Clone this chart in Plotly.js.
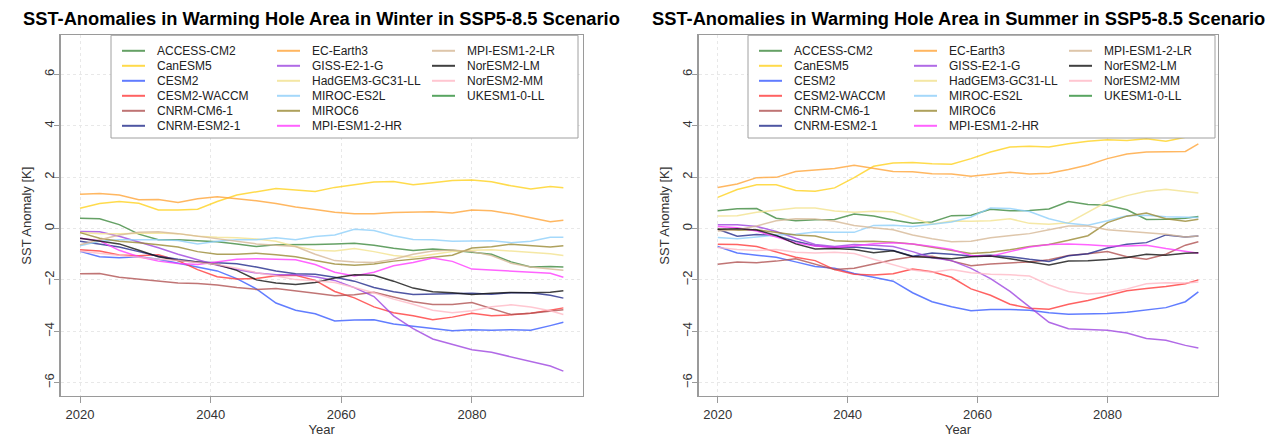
<!DOCTYPE html>
<html><head><meta charset="utf-8">
<script src="https://cdn.plot.ly/plotly-3.0.1.min.js"></script>
<style>html,body{margin:0;padding:0;background:#fff;}#chart{width:1274px;height:437px;}</style>
</head><body><div id="chart"></div>
<script>
// ---------------- data ----------------
const years = [2020,2023,2026,2029,2032,2035,2038,2041,2044,2047,2050,2053,2056,2059,2062,2065,2068,2071,2074,2077,2080,2083,2086,2089,2092,2094];
const models = ["ACCESS-CM2","CanESM5","CESM2","CESM2-WACCM","CNRM-CM6-1","CNRM-ESM2-1",
  "EC-Earth3","GISS-E2-1-G","HadGEM3-GC31-LL","MIROC-ES2L","MIROC6","MPI-ESM1-2-HR",
  "MPI-ESM1-2-LR","NorESM2-LM","NorESM2-MM","UKESM1-0-LL"];
const colors = ["#3f8a3f","#ffd21f","#3a5cff","#ff3b3b","#b05252","#232c8c",
  "#ffa53a","#9d45e0","#f2e28e","#8ecffa","#9a8a34","#ff3cff",
  "#d6b896","#111111","#ffb9c6","#2f8f3a"];
const yTicks = [-6,-4,-2,0,2,4,6];
const xTicks = [2020,2040,2060,2080];

// Winter
const winter_ACCESS_CM2  = [0.4,0.38,0.15,-0.22,-0.44,-0.44,-0.48,-0.52,-0.6,-0.7,-0.63,-0.63,-0.62,-0.6,-0.57,-0.65,-0.77,-0.86,-0.8,-0.85,-0.93,-1.0,-1.3,-1.5,-1.48,-1.5];
const winter_CanESM5     = [0.79,0.97,1.05,0.98,0.72,0.72,0.75,1.05,1.3,1.43,1.56,1.5,1.44,1.6,1.72,1.81,1.83,1.7,1.78,1.87,1.89,1.82,1.66,1.54,1.63,1.59];
const winter_CESM2       = [-0.89,-1.1,-1.14,-1.1,-1.2,-1.35,-1.5,-1.65,-1.95,-2.35,-2.9,-3.18,-3.32,-3.6,-3.56,-3.55,-3.72,-3.81,-3.88,-3.98,-3.94,-3.96,-3.94,-3.96,-3.78,-3.65];
const winter_CESM2_WACCM = [-0.83,-0.88,-1.03,-1.06,-1.02,-1.25,-1.6,-1.88,-1.97,-1.95,-1.84,-1.82,-2.02,-2.45,-2.7,-3.05,-3.28,-3.4,-3.55,-3.45,-3.3,-3.4,-3.36,-3.3,-3.18,-3.09];
const winter_CNRM_CM6_1  = [-1.76,-1.75,-1.9,-1.97,-2.05,-2.12,-2.14,-2.2,-2.3,-2.37,-2.34,-2.42,-2.52,-2.62,-2.58,-2.48,-2.65,-2.85,-2.96,-2.96,-2.88,-3.1,-3.35,-3.3,-3.22,-3.16];
const winter_CNRM_ESM2_1 = [-0.5,-0.6,-0.72,-0.9,-1.08,-1.2,-1.3,-1.33,-1.37,-1.5,-1.65,-1.76,-1.78,-1.9,-2.05,-2.3,-2.46,-2.57,-2.56,-2.53,-2.52,-2.56,-2.5,-2.5,-2.6,-2.71];
const winter_EC_Earth3   = [1.33,1.36,1.3,1.12,1.13,1.01,1.16,1.24,1.16,1.08,0.97,0.84,0.74,0.63,0.57,0.57,0.62,0.64,0.65,0.6,0.72,0.69,0.57,0.42,0.26,0.32];
const winter_GISS_E2_1_G = [-0.12,-0.13,-0.3,-0.52,-0.75,-1.0,-1.22,-1.43,-1.6,-1.73,-1.8,-1.8,-1.88,-2.02,-2.3,-2.65,-3.4,-3.9,-4.3,-4.52,-4.72,-4.82,-5.0,-5.18,-5.35,-5.55];
const winter_HadGEM3      = [-0.16,-0.2,-0.2,-0.18,-0.18,-0.2,-0.3,-0.34,-0.36,-0.41,-0.5,-0.7,-0.85,-0.88,-0.78,-0.9,-1.05,-1.12,-1.0,-0.9,-0.85,-0.83,-0.88,-0.92,-0.98,-1.05];
const winter_MIROC_ES2L  = [-0.67,-0.5,-0.44,-0.44,-0.44,-0.47,-0.6,-0.5,-0.44,-0.44,-0.36,-0.44,-0.31,-0.25,-0.03,-0.08,-0.28,-0.43,-0.44,-0.5,-0.48,-0.48,-0.55,-0.5,-0.34,-0.34];
const winter_MIROC6      = [-0.16,-0.38,-0.5,-0.55,-0.63,-0.72,-0.9,-1.0,-1.0,-0.96,-1.02,-1.1,-1.25,-1.38,-1.43,-1.38,-1.27,-1.19,-1.11,-1.04,-0.76,-0.71,-0.61,-0.67,-0.72,-0.67];
const winter_MPI_HR      = [-0.38,-0.48,-0.85,-1.1,-1.27,-1.36,-1.4,-1.3,-1.2,-1.18,-1.2,-1.22,-1.4,-1.7,-1.85,-1.7,-1.45,-1.32,-1.15,-1.28,-1.58,-1.62,-1.66,-1.7,-1.74,-1.9];
const winter_MPI_LR      = [-0.63,-0.45,-0.25,-0.15,-0.13,-0.2,-0.3,-0.4,-0.5,-0.6,-0.65,-0.7,-1.0,-1.25,-1.3,-1.32,-1.2,-1.0,-0.88,-0.84,-0.9,-1.05,-1.35,-1.5,-1.58,-1.63];
const winter_NorESM2_LM  = [-0.38,-0.48,-0.6,-0.85,-1.1,-1.25,-1.3,-1.4,-1.63,-2.0,-2.12,-2.18,-2.1,-1.93,-1.8,-1.82,-2.05,-2.32,-2.46,-2.5,-2.57,-2.52,-2.49,-2.5,-2.48,-2.42];
const winter_NorESM2_MM  = [-0.89,-0.97,-1.05,-1.12,-1.2,-1.25,-1.33,-1.4,-1.55,-1.72,-1.85,-1.99,-2.03,-2.1,-2.3,-2.5,-2.75,-2.95,-3.18,-3.28,-3.2,-3.05,-2.97,-3.06,-3.2,-3.35];
const winter_UKESM1_0_LL = [];

// Summer
const summer_ACCESS_CM2  = [0.69,0.77,0.78,0.4,0.3,0.34,0.35,0.56,0.49,0.33,0.2,0.25,0.5,0.52,0.75,0.69,0.7,0.76,1.05,0.93,0.9,0.73,0.35,0.36,0.4,0.47];
const summer_CanESM5     = [1.21,1.52,1.7,1.7,1.48,1.45,1.58,1.98,2.42,2.55,2.57,2.52,2.5,2.72,2.98,3.17,3.2,3.17,3.3,3.4,3.45,3.43,3.49,3.4,3.55,3.65];
const summer_CESM2       = [-0.7,-0.95,-1.04,-1.12,-1.3,-1.48,-1.55,-1.75,-1.9,-2.05,-2.5,-2.85,-3.05,-3.2,-3.15,-3.15,-3.18,-3.28,-3.34,-3.33,-3.31,-3.26,-3.18,-3.08,-2.85,-2.47];
const summer_CESM2_WACCM = [-0.61,-0.62,-0.7,-0.92,-1.12,-1.25,-1.6,-1.78,-1.81,-1.76,-1.58,-1.68,-1.9,-2.35,-2.6,-2.95,-3.1,-3.14,-2.95,-2.8,-2.62,-2.42,-2.34,-2.26,-2.15,-2.0];
const summer_CNRM_CM6_1  = [-1.39,-1.3,-1.33,-1.27,-1.18,-1.4,-1.6,-1.55,-1.38,-1.22,-1.1,-1.08,-1.26,-1.45,-1.38,-1.33,-1.3,-1.22,-1.05,-0.98,-0.9,-1.1,-1.2,-1.0,-0.65,-0.52];
const summer_CNRM_ESM2_1 = [-0.03,-0.3,-0.23,-0.28,-0.5,-0.67,-0.74,-0.72,-0.79,-0.86,-1.08,-0.95,-1.0,-1.07,-1.04,-1.1,-1.2,-1.28,-1.06,-0.98,-0.76,-0.61,-0.55,-0.25,-0.33,-0.29];
const summer_EC_Earth3   = [1.6,1.73,1.98,1.99,2.22,2.28,2.34,2.46,2.34,2.22,2.21,2.13,2.12,2.03,2.11,2.19,2.12,2.15,2.3,2.47,2.72,2.9,2.98,3.0,3.0,3.29];
const summer_GISS_E2_1_G = [0.15,0.15,0.08,-0.12,-0.38,-0.62,-0.7,-0.62,-0.65,-0.7,-0.9,-1.14,-1.25,-1.55,-1.95,-2.45,-3.05,-3.65,-3.9,-3.93,-3.96,-4.07,-4.28,-4.35,-4.55,-4.65];
const summer_HadGEM3      = [0.49,0.5,0.63,0.72,0.8,0.8,0.68,0.63,0.67,0.65,0.4,0.17,0.29,0.28,0.3,0.38,0.2,0.17,0.22,0.65,1.05,1.28,1.45,1.53,1.45,1.38];
const summer_MIROC_ES2L  = [-0.35,-0.4,-0.33,-0.25,-0.22,-0.14,-0.15,-0.15,0.12,0.13,0.08,0.16,0.25,0.45,0.8,0.78,0.66,0.38,0.2,0.13,0.3,0.5,0.52,0.46,0.44,0.43];
const summer_MIROC6      = [-0.03,-0.07,-0.05,-0.16,-0.25,-0.29,-0.48,-0.51,-0.5,-0.54,-0.6,-0.73,-0.85,-0.97,-0.92,-0.83,-0.7,-0.62,-0.46,-0.28,0.23,0.48,0.6,0.38,0.28,0.36];
const summer_MPI_HR      = [0.08,0.03,-0.1,-0.33,-0.56,-0.68,-0.74,-0.68,-0.59,-0.55,-0.6,-0.7,-0.82,-1.05,-1.08,-0.9,-0.72,-0.62,-0.6,-0.63,-0.68,-0.68,-0.65,-0.78,-0.9,-0.96];
const summer_MPI_LR      = [-0.1,-0.05,0.1,0.3,0.38,0.37,0.28,0.12,0.03,-0.05,-0.25,-0.4,-0.52,-0.5,-0.36,-0.28,-0.2,-0.05,0.1,0.1,-0.05,-0.11,-0.16,-0.22,-0.33,-0.29];
const summer_NorESM2_LM  = [-0.03,-0.01,-0.06,-0.27,-0.6,-0.8,-0.78,-0.82,-0.94,-0.87,-1.09,-1.13,-1.18,-1.1,-1.07,-1.18,-1.3,-1.42,-1.27,-1.26,-1.21,-1.13,-1.0,-1.04,-0.96,-0.94];
const summer_NorESM2_MM  = [-0.74,-0.82,-0.86,-0.82,-0.92,-0.95,-0.92,-0.97,-1.2,-1.4,-1.62,-1.7,-1.6,-1.72,-1.78,-1.8,-1.85,-2.2,-2.45,-2.55,-2.5,-2.35,-2.15,-2.11,-2.12,-2.08];
const summer_UKESM1_0_LL = [];

const winterSeries = [winter_ACCESS_CM2,winter_CanESM5,winter_CESM2,winter_CESM2_WACCM,winter_CNRM_CM6_1,winter_CNRM_ESM2_1,
  winter_EC_Earth3,winter_GISS_E2_1_G,winter_HadGEM3,winter_MIROC_ES2L,winter_MIROC6,winter_MPI_HR,
  winter_MPI_LR,winter_NorESM2_LM,winter_NorESM2_MM,winter_UKESM1_0_LL];
const summerSeries = [summer_ACCESS_CM2,summer_CanESM5,summer_CESM2,summer_CESM2_WACCM,summer_CNRM_CM6_1,summer_CNRM_ESM2_1,
  summer_EC_Earth3,summer_GISS_E2_1_G,summer_HadGEM3,summer_MIROC_ES2L,summer_MIROC6,summer_MPI_HR,
  summer_MPI_LR,summer_NorESM2_LM,summer_NorESM2_MM,summer_UKESM1_0_LL];

// ---------------- layout helpers ----------------
const W = 1274, H = 437;
const FONT = "Liberation Sans, Arial, Helvetica, sans-serif";
const px = v => v / W;
const py = v => 1 - v / H;
const panels = [
  {x0: 60.7, x1: 582.7, xa: 'x', ya: 'y', series: winterSeries,
   title: 'SST-Anomalies in Warming Hole Area in Winter in SSP5-8.5 Scenario', leg0: 111, leg1: 578},
  {x0: 698.5, x1: 1217.6, xa: 'x2', ya: 'y2', series: summerSeries,
   title: 'SST-Anomalies in Warming Hole Area in Summer in SSP5-8.5 Scenario', leg0: 748, leg1: 1215}
];
const plotTop = 35.3, plotBot = 396;

const traces = [];
panels.forEach(p => {
  p.series.forEach((vals, i) => {
    traces.push({
      type: 'scatter', mode: 'lines', x: years.slice(0, vals.length), y: vals,
      xaxis: p.xa, yaxis: p.ya, name: models[i], showlegend: false,
      line: {color: colors[i], width: 1.5}, opacity: 0.8, hoverinfo: 'skip'
    });
  });
});

function axisX(p) {
  return {domain: [px(p.x0), px(p.x1)], range: [2017.04, 2096.96], anchor: p.ya,
    tickvals: xTicks, ticks: 'outside', ticklen: 6, tickcolor: '#9a9a9a', tickwidth: 1,
    showline: true, mirror: true, linecolor: '#9a9a9a', linewidth: 1.3,
    showgrid: true, gridcolor: '#e8e8e8', griddash: 'dot', gridwidth: 1, zeroline: false,
    tickfont: {family: FONT, size: 13, color: '#333'},
    title: {text: 'Year', font: {family: FONT, size: 13, color: '#333'}, standoff: 4}};
}
function axisY(p) {
  return {domain: [py(plotBot), py(plotTop)], range: [-6.52, 7.52], anchor: p.xa,
    tickvals: yTicks, ticks: 'outside', ticklen: 5, tickcolor: '#9a9a9a', tickwidth: 1,
    tickangle: -90, ticklabelstandoff: -5,
    showline: true, mirror: true, linecolor: '#9a9a9a', linewidth: 1.3,
    showgrid: true, gridcolor: '#e8e8e8', griddash: 'dot', gridwidth: 1, zeroline: false,
    tickfont: {family: FONT, size: 13, color: '#333'},
    title: {text: 'SST Anomaly [K]', font: {family: FONT, size: 13, color: '#333'}, standoff: 7}};
}

const shapes = [], annotations = [];
const legTop = plotTop, legBot = 138;
const colOff = [0, 155, 310];
panels.forEach(p => {
  annotations.push({xref: 'paper', yref: 'paper', x: px((p.x0 + p.x1) / 2), y: py(19),
    xanchor: 'center', yanchor: 'middle', showarrow: false, text: '<b>' + p.title + '</b>',
    font: {family: FONT, size: 18.3, color: '#000'}});
  shapes.push({type: 'rect', xref: 'paper', yref: 'paper', layer: 'above',
    x0: px(p.leg0), x1: px(p.leg1), y0: py(legBot), y1: py(legTop),
    fillcolor: '#ffffff', line: {color: '#a0a0a0', width: 1}});
  models.forEach((m, i) => {
    const col = i < 6 ? 0 : (i < 12 ? 1 : 2);
    const row = i < 6 ? i : (i < 12 ? i - 6 : i - 12);
    const lx = p.leg0 + 11 + colOff[col];
    const ly = 50.8 + row * 15;
    shapes.push({type: 'line', xref: 'paper', yref: 'paper', layer: 'above',
      x0: px(lx), x1: px(lx + 23), y0: py(ly), y1: py(ly),
      line: {color: colors[i], width: 2}, opacity: 0.8});
    annotations.push({xref: 'paper', yref: 'paper', x: px(lx + 33), y: py(ly),
      xanchor: 'left', yanchor: 'middle', showarrow: false, text: m,
      font: {family: FONT, size: 12, color: '#222'}});
  });
});

const layout = {
  width: W, height: H, margin: {l: 0, r: 0, t: 0, b: 0},
  paper_bgcolor: '#fff', plot_bgcolor: '#fff', showlegend: false,
  font: {family: FONT},
  xaxis: axisX(panels[0]), yaxis: axisY(panels[0]),
  xaxis2: axisX(panels[1]), yaxis2: axisY(panels[1]),
  shapes: shapes, annotations: annotations
};
Plotly.newPlot('chart', traces, layout, {displayModeBar: false, staticPlot: true});
</script></body></html>
